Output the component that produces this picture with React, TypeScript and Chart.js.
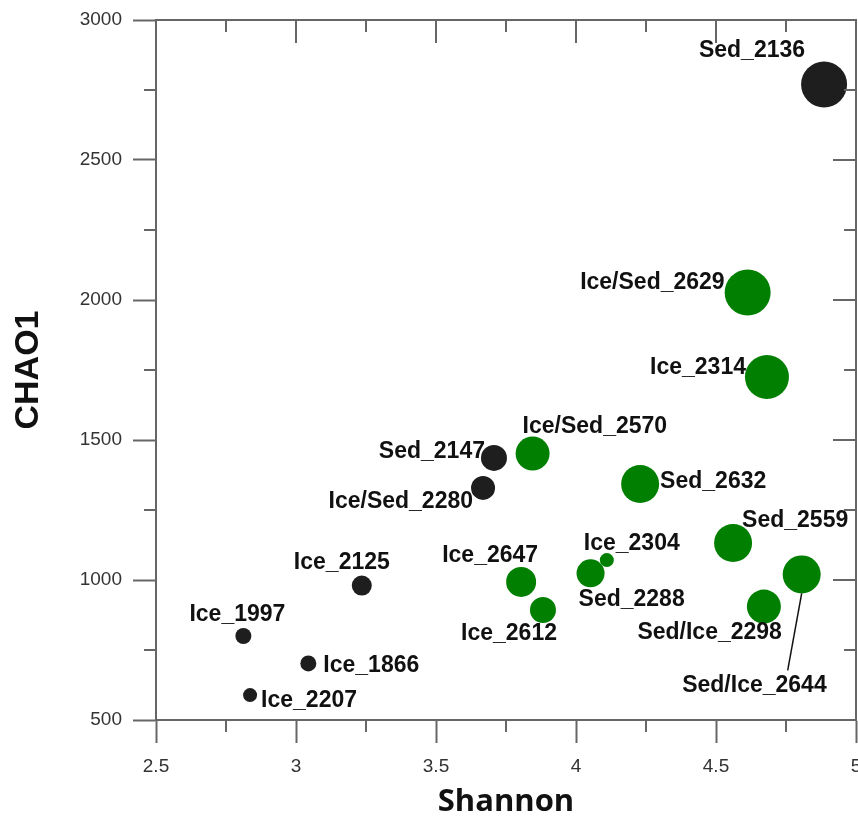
import React, { useEffect, useRef } from 'react';
import { Chart, registerables } from 'chart.js';

Chart.register(...registerables);

// ---- Data ----
const blackNames = ['Sed_2136', 'Sed_2147', 'Ice/Sed_2280', 'Ice_2125', 'Ice_1997', 'Ice_1866', 'Ice_2207'];
const blackShannon = [4.886, 3.707, 3.668, 3.235, 2.812, 3.044, 2.836];
const blackChao1 = [2770, 1436, 1329, 980, 800, 702, 589];
const blackSize = [23, 13, 12, 10, 8, 8, 7];

const greenNames = ['Ice/Sed_2629', 'Ice_2314', 'Ice/Sed_2570', 'Sed_2632', 'Sed_2559', 'Sed/Ice_2298', 'Sed/Ice_2644', 'Ice_2304', 'Sed_2288', 'Ice_2647', 'Ice_2612'];
const greenShannon = [4.613, 4.682, 3.845, 4.229, 4.561, 4.671, 4.806, 4.110, 4.052, 3.804, 3.882];
const greenChao1 = [2027, 1725, 1452, 1343, 1132, 905, 1020, 1071, 1024, 993, 893];
const greenSize = [23, 22, 17, 19, 19, 17, 19, 7, 14, 15, 13];

const xTicks = [2.5, 3, 3.5, 4, 4.5, 5];
const xMinorTicks = [2.75, 3.25, 3.75, 4.25, 4.75];
const yTicks = [500, 1000, 1500, 2000, 2500, 3000];
const yMinorTicks = [750, 1250, 1750, 2250, 2750];

// ---- Styling / label placement (layout, not data) ----
const AXIS = '#666666';
const BLACK = '#1e1e1e';
const GREEN = '#007f00';
const LABEL_FONT = 'bold 23px "Liberation Sans", Arial, sans-serif';

type Place = { dx: number; dy: number; align: CanvasTextAlign; leader?: [number, number, number, number] };
const placement: Record<string, Place> = {
  'Sed_2136': { dx: -19, dy: -34, align: 'right' },
  'Ice/Sed_2629': { dx: -23, dy: -10, align: 'right' },
  'Ice_2314': { dx: -21, dy: -9, align: 'right' },
  'Ice/Sed_2570': { dx: -10, dy: -27, align: 'left' },
  'Sed_2147': { dx: -9, dy: -6, align: 'right' },
  'Ice/Sed_2280': { dx: -10, dy: 14, align: 'right' },
  'Sed_2632': { dx: 20, dy: -2, align: 'left' },
  'Sed_2559': { dx: 9, dy: -22, align: 'left' },
  'Sed/Ice_2298': { dx: 18, dy: 26, align: 'right' },
  'Sed/Ice_2644': { dx: 25, dy: 111, align: 'right', leader: [0, 19, -14, 96] },
  'Ice_2304': { dx: -23, dy: -16, align: 'left' },
  'Sed_2288': { dx: -12, dy: 26, align: 'left' },
  'Ice_2647': { dx: 17, dy: -26, align: 'right' },
  'Ice_2612': { dx: 14, dy: 24, align: 'right' },
  'Ice_2125': { dx: 28, dy: -23, align: 'right' },
  'Ice_1997': { dx: 42, dy: -21, align: 'right' },
  'Ice_1866': { dx: 15, dy: 2, align: 'left' },
  'Ice_2207': { dx: 11, dy: 6, align: 'left' },
};

const framePlugin = {
  id: 'frame',
  afterDraw(chart: any) {
    const { ctx, chartArea, scales } = chart;
    const { left, right, top, bottom } = chartArea;
    const x = scales.x;
    const y = scales.y;
    ctx.save();
    ctx.strokeStyle = AXIS;
    ctx.lineWidth = 2;
    ctx.beginPath();
    ctx.moveTo(left - 1, top);
    ctx.lineTo(right, top);
    ctx.lineTo(right, bottom + 1);
    ctx.stroke();
    ctx.beginPath();
    // top inward ticks
    xTicks.forEach((v) => {
      const px = x.getPixelForValue(v);
      ctx.moveTo(px, top);
      ctx.lineTo(px, top + 23);
    });
    xMinorTicks.forEach((v) => {
      const px = x.getPixelForValue(v);
      ctx.moveTo(px, top);
      ctx.lineTo(px, top + 12);
      ctx.moveTo(px, bottom);
      ctx.lineTo(px, bottom + 12);
    });
    yTicks.forEach((v) => {
      const py = y.getPixelForValue(v);
      ctx.moveTo(right, py);
      ctx.lineTo(right - 23, py);
    });
    yMinorTicks.forEach((v) => {
      const py = y.getPixelForValue(v);
      ctx.moveTo(right, py);
      ctx.lineTo(right - 12, py);
      ctx.moveTo(left, py);
      ctx.lineTo(left - 12, py);
    });
    ctx.stroke();
    ctx.restore();
  },
};

const labelPlugin = {
  id: 'pointLabels',
  afterDatasetsDraw(chart: any) {
    const { ctx } = chart;
    ctx.save();
    ctx.font = LABEL_FONT;
    ctx.fillStyle = '#111111';
    ctx.textBaseline = 'middle';
    chart.data.datasets.forEach((ds: any, di: number) => {
      const meta = chart.getDatasetMeta(di);
      meta.data.forEach((el: any, i: number) => {
        const name = ds.names[i];
        const p = placement[name];
        if (!p) return;
        if (p.leader) {
          ctx.strokeStyle = '#111111';
          ctx.lineWidth = 1.5;
          ctx.beginPath();
          ctx.moveTo(el.x + p.leader[0], el.y + p.leader[1]);
          ctx.lineTo(el.x + p.leader[2], el.y + p.leader[3]);
          ctx.stroke();
        }
        ctx.textAlign = p.align;
        ctx.fillText(name, el.x + p.dx, el.y + p.dy);
      });
    });
    ctx.restore();
  },
};

export default function App() {
  const canvasRef = useRef<HTMLCanvasElement | null>(null);

  useEffect(() => {
    document.body.style.margin = '0';
    const canvas = canvasRef.current;
    if (!canvas) return;

    const chart = new Chart(canvas, {
      type: 'bubble',
      data: {
        datasets: [
          {
            label: 'Group 1',
            names: blackNames,
            data: blackShannon.map((v, i) => ({ x: v, y: blackChao1[i], r: blackSize[i] })),
            backgroundColor: BLACK,
            borderWidth: 0,
            hoverRadius: 0,
            clip: false,
          } as any,
          {
            label: 'Group 2',
            names: greenNames,
            data: greenShannon.map((v, i) => ({ x: v, y: greenChao1[i], r: greenSize[i] })),
            backgroundColor: GREEN,
            borderWidth: 0,
            hoverRadius: 0,
            clip: false,
          } as any,
        ],
      },
      options: {
        responsive: false,
        animation: false,
        events: [],
        layout: { autoPadding: false, padding: { top: 20, right: 2, left: 0, bottom: 0 } },
        plugins: {
          legend: { display: false },
          tooltip: { enabled: false },
        },
        scales: {
          x: {
            type: 'linear',
            position: 'bottom',
            min: 2.5,
            max: 5,
            afterBuildTicks: (scale: any) => {
              scale.ticks = xTicks.map((v) => ({ value: v }));
            },
            afterFit: (scale: any) => {
              scale.height = 101;
              scale.paddingLeft = 0;
              scale.paddingRight = 0;
            },
            ticks: {
              autoSkip: false,
              maxRotation: 0,
              padding: 12,
              color: '#333333',
              font: { family: '"Liberation Sans", Arial, sans-serif', size: 19 },
              callback: (v: any) => String(v),
            },
            grid: {
              display: true,
              drawOnChartArea: false,
              drawTicks: true,
              tickLength: 23,
              tickColor: AXIS,
              tickWidth: 2,
            },
            border: { display: true, color: AXIS, width: 2 },
            title: {
              display: true,
              text: 'Shannon',
              color: '#111111',
              font: { family: '"Open Sans", sans-serif', size: 31, weight: 'bold' },
              padding: { top: 0, bottom: 0 },
            },
          },
          y: {
            type: 'linear',
            position: 'left',
            min: 500,
            max: 3000,
            afterBuildTicks: (scale: any) => {
              scale.ticks = yTicks.map((v) => ({ value: v }));
            },
            afterFit: (scale: any) => {
              scale.width = 156;
              scale.paddingTop = 0;
              scale.paddingBottom = 0;
            },
            ticks: {
              autoSkip: false,
              padding: 11,
              color: '#333333',
              font: { family: '"Liberation Sans", Arial, sans-serif', size: 19 },
              callback: (v: any) => String(v),
            },
            grid: {
              display: true,
              drawOnChartArea: false,
              drawTicks: true,
              tickLength: 23,
              tickColor: AXIS,
              tickWidth: 2,
            },
            border: { display: true, color: AXIS, width: 2 },
            title: {
              display: true,
              text: 'CHAO1',
              color: '#111111',
              font: { family: '"Liberation Sans", Arial, sans-serif', size: 34, weight: 'bold' },
              padding: { top: 8, bottom: 0 },
            },
          },
        },
      } as any,
      plugins: [framePlugin, labelPlugin],
    });

    return () => {
      chart.destroy();
    };
  }, []);

  return (
    <div style={{ width: 858, height: 821, background: '#ffffff' }}>
      <canvas ref={canvasRef} width={858} height={821} style={{ display: 'block', width: 858, height: 821 }} />
    </div>
  );
}
